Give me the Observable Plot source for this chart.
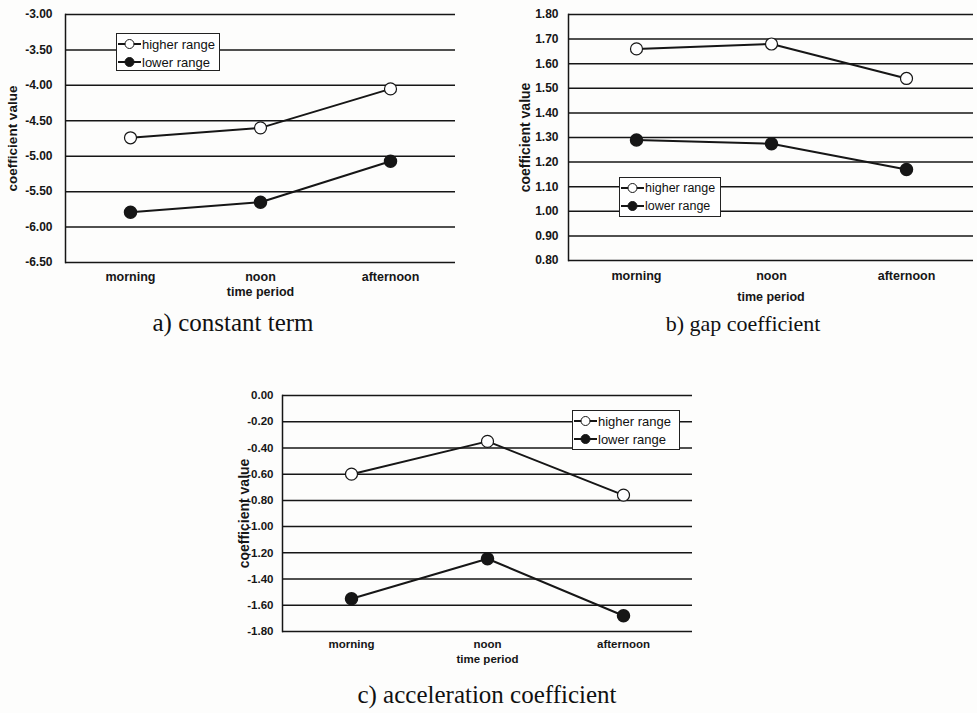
<!DOCTYPE html>
<html>
<head>
<meta charset="utf-8">
<script src="https://cdn.jsdelivr.net/npm/d3@7"></script>
<script src="https://cdn.jsdelivr.net/npm/@observablehq/plot@0.6"></script>
<style>
  html, body { margin: 0; padding: 0; background: #fff; }
  #page { position: relative; width: 977px; height: 713px; background: #fdfdfc; overflow: hidden; }
  .chart { position: absolute; }
  .legend { position: absolute; border: 1px solid #222; background: #fff; font-family: "Liberation Sans", Arial, sans-serif; font-size: 13px; color: #111; box-sizing: border-box; white-space: nowrap; }
  .legend .row { display: flex; align-items: center; height: 18px; white-space: nowrap; }
  .legend svg { flex: none; }
  .caption { position: absolute; font-family: "Liberation Serif", "Times New Roman", serif; color: #111; white-space: nowrap; }
</style>
</head>
<body>
<div id="page"></div>
<script>
// ---- data ----
const periods = ["morning", "noon", "afternoon"];
const seriesNames = ["higher range", "lower range"];

const constHigher = [-4.74, -4.60, -4.05];
const constLower = [-5.79, -5.65, -5.07];
const constTicks = [-3.0, -3.5, -4.0, -4.5, -5.0, -5.5, -6.0, -6.5];

const gapHigher = [1.66, 1.68, 1.54];
const gapLower = [1.29, 1.275, 1.17];
const gapTicks = [1.8, 1.7, 1.6, 1.5, 1.4, 1.3, 1.2, 1.1, 1.0, 0.9, 0.8];

const accelHigher = [-0.60, -0.35, -0.76];
const accelLower = [-1.55, -1.245, -1.68];
const accelTicks = [0.0, -0.2, -0.4, -0.6, -0.8, -1.0, -1.2, -1.4, -1.6, -1.8];

const captions = ["a) constant term", "b) gap coefficient", "c) acceleration coefficient"];
const yLabel = "coefficient value";
const xLabel = "time period";

// ---- drawing ----
const page = document.getElementById("page");
const ink = "#161616";

function makeChart(o) {
  const hi = periods.map((p, i) => ({period: p, value: o.higher[i]}));
  const lo = periods.map((p, i) => ({period: p, value: o.lower[i]}));
  const svg = Plot.plot({
    width: o.width, height: o.height,
    marginLeft: o.ml, marginRight: o.mr, marginTop: o.mt, marginBottom: o.mb,
    style: {fontFamily: "'Liberation Sans', Arial, sans-serif", background: "transparent", color: ink},
    x: {type: "point", domain: periods, padding: 0.5},
    y: {domain: [d3.min(o.ticks), d3.max(o.ticks)]},
    marks: [
      Plot.ruleY(o.ticks, {stroke: ink, strokeWidth: 1.5}),
      Plot.frame({anchor: "left", stroke: ink, strokeWidth: 1.5}),
      Plot.axisY({ticks: o.ticks, tickFormat: d => d.toFixed(2), tickSize: 5, tickPadding: o.tp, label: null,
                  fontSize: o.yfs, fontWeight: "bold", stroke: null}),
      Plot.axisX({tickSize: 0, tickPadding: o.xpad, label: null, fontSize: o.xfs, fontWeight: "bold"}),
      Plot.line(hi, {x: "period", y: "value", stroke: ink, strokeWidth: 2}),
      Plot.line(lo, {x: "period", y: "value", stroke: ink, strokeWidth: 2}),
      Plot.dot(hi, {x: "period", y: "value", r: 6, fill: "white", stroke: ink, strokeWidth: 1.2}),
      Plot.dot(lo, {x: "period", y: "value", r: 6, fill: ink, stroke: ink}),
      Plot.text([yLabel], {frameAnchor: "left", dx: o.ydx, rotate: -90, textAnchor: "middle",
                           fontSize: o.lfs, fontWeight: "bold", fill: ink}),
      Plot.text([xLabel], {frameAnchor: "bottom", dy: o.tdy, textAnchor: "middle",
                           fontSize: o.xfs, fontWeight: "bold", fill: ink})
    ]
  });
  svg.classList.add("chart");
  svg.style.left = o.left + "px";
  svg.style.top = o.top + "px";
  page.appendChild(svg);
}

function makeLegend(left, top, w, h, fs) {
  const div = document.createElement("div");
  div.className = "legend";
  Object.assign(div.style, {left: left + "px", top: top + "px", width: w + "px", height: h + "px",
                            padding: "1px 1px", fontSize: fs + "px"});
  seriesNames.forEach((name, i) => {
    const row = document.createElement("div");
    row.className = "row";
    row.innerHTML = `<svg width="23" height="14"><line x1="0" x2="23" y1="7" y2="7" stroke="${ink}" stroke-width="2"/>` +
      `<circle cx="11.5" cy="7" r="4.5" fill="${i === 0 ? "white" : ink}" stroke="${ink}" stroke-width="1"/></svg>` +
      `<span style="margin-left:1px">${name}</span>`;
    div.appendChild(row);
  });
  page.appendChild(div);
}

function makeCaption(text, cx, baseline, size) {
  const d = document.createElement("div");
  d.className = "caption";
  d.textContent = text;
  Object.assign(d.style, {left: (cx - 300) + "px", width: "600px", textAlign: "center",
                          top: (baseline - size * 0.9) + "px", fontSize: size + "px", lineHeight: "1"});
  page.appendChild(d);
}

// a) constant term
makeChart({higher: constHigher, lower: constLower, ticks: constTicks,
  left: 0, top: 0, width: 470, height: 306, ml: 65, mr: 15, mt: 14, mb: 44,
  tp: 8, yfs: 12, lfs: 13.5, xfs: 12.5, xpad: 10, ydx: -53, tdy: 33});
makeLegend(116, 33, 104, 38, 13);
makeCaption(captions[0], 233, 332, 25);

// b) gap coefficient
makeChart({higher: gapHigher, lower: gapLower, ticks: gapTicks,
  left: 490, top: 0, width: 487, height: 306, ml: 78, mr: 4, mt: 14, mb: 46,
  tp: 5, yfs: 12, lfs: 14, xfs: 12.5, xpad: 11, ydx: -43, tdy: 40});
makeLegend(619, 177, 102, 40, 12.5);
makeCaption(captions[1], 743, 333, 22);

// c) acceleration coefficient
makeChart({higher: accelHigher, lower: accelLower, ticks: accelTicks,
  left: 230, top: 380, width: 470, height: 290, ml: 52, mr: 8, mt: 15, mb: 39,
  tp: 4, yfs: 11.5, lfs: 14, xfs: 11.5, xpad: 8, ydx: -38, tdy: 31});
makeLegend(572, 410, 108, 40, 13);
makeCaption(captions[2], 487, 704, 25);
</script>
</body>
</html>
